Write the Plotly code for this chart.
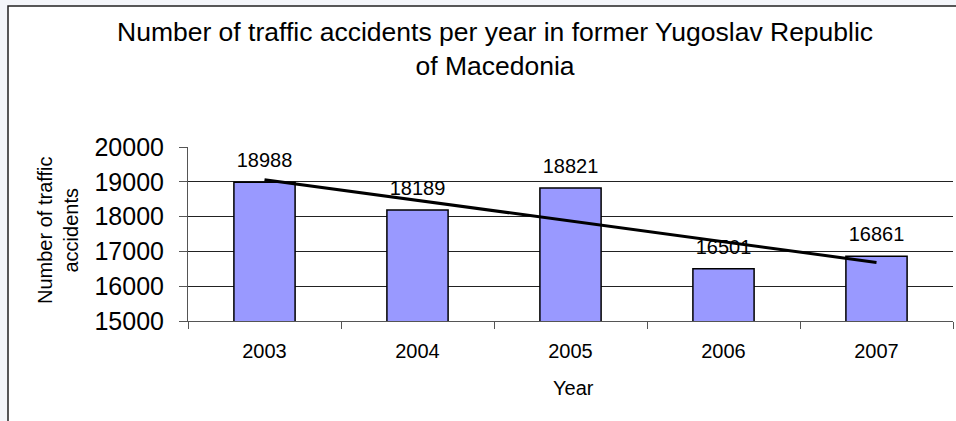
import numpy as np
import plotly.graph_objects as go

years = ["2003", "2004", "2005", "2006", "2007"]
accidents = [18988, 18189, 18821, 16501, 16861]
y_ticks = [15000, 16000, 17000, 18000, 19000, 20000]
y_tick_labels = ["15000", "16000", "17000", "18000", "19000", "20000"]

title_text = "Number of traffic accidents per year in former Yugoslav Republic<br>of Macedonia"
y_title = "Number of traffic<br>accidents"
x_title = "Year"

FONT = "Liberation Sans, Arial, sans-serif"

# linear trendline (Excel-style) computed from the data
xi = np.arange(1, len(accidents) + 1)
slope, intercept = np.polyfit(xi, accidents, 1)
trend = list(slope * xi + intercept)

fig = go.Figure()
fig.add_trace(go.Bar(
    x=years, y=accidents,
    marker=dict(color="#9999FF", line=dict(color="#000000", width=1.5)),
    width=0.4, showlegend=False, hoverinfo="skip",
))
fig.add_trace(go.Scatter(
    x=years, y=accidents, mode="markers+text",
    text=[str(v) for v in accidents], textposition="top center",
    marker=dict(size=14, opacity=0),
    textfont=dict(family=FONT, size=20, color="#000000"),
    showlegend=False, hoverinfo="skip", cliponaxis=False,
))
fig.add_trace(go.Scatter(
    x=years, y=trend, mode="lines",
    line=dict(color="#000000", width=3),
    showlegend=False, hoverinfo="skip",
))

W, H = 956, 421
L, R, T, B = 188, 3, 147, 100
pw, ph = W - L - R, H - T - B

def px_x(p):
    return (p - L) / pw

def px_y(p):
    return (H - B - p) / ph

fig.update_layout(
    width=W, height=H,
    margin=dict(l=L, r=R, t=T, b=B, pad=0),
    paper_bgcolor="#F4F6FA",
    plot_bgcolor="rgba(0,0,0,0)",
    font=dict(family=FONT, color="#000000"),
    bargap=0.6,
    xaxis=dict(
        type="category", tickson="boundaries",
        ticks="outside", ticklen=7, tickcolor="#555555", tickwidth=1,
        showline=True, linecolor="#555555", linewidth=1,
        showgrid=False,
        tickfont=dict(family=FONT, size=20),
        ticklabelstandoff=12,
        range=[-0.5, 4.5],
    ),
    yaxis=dict(
        range=[15000, 20000], tickvals=y_ticks, ticktext=y_tick_labels,
        ticks="outside", ticklen=8, tickcolor="#555555", tickwidth=1,
        showline=True, linecolor="#555555", linewidth=1,
        showgrid=True, gridcolor="#222222", gridwidth=1,
        tickfont=dict(family=FONT, size=25),
        ticklabelstandoff=10,
        zeroline=False,
    ),
    shapes=[
        dict(type="rect", xref="paper", yref="paper",
             x0=px_x(8), x1=px_x(W + 20), y0=px_y(H + 20), y1=px_y(6),
             line=dict(color="#222222", width=1.5), fillcolor="#FFFFFF",
             layer="below"),
    ],
    annotations=[
        dict(text=title_text, xref="paper", yref="paper",
             x=px_x(495), y=px_y(15), xanchor="center", yanchor="top",
             showarrow=False, align="center",
             font=dict(family=FONT, size=26.5, color="#000000")),
        dict(text=y_title, xref="paper", yref="paper",
             x=px_x(58), y=px_y(231), xanchor="center", yanchor="middle",
             textangle=-90, showarrow=False, align="center",
             font=dict(family=FONT, size=20, color="#000000")),
        dict(text=x_title, xref="paper", yref="paper",
             x=px_x(573), y=px_y(388), xanchor="center", yanchor="middle",
             showarrow=False,
             font=dict(family=FONT, size=20, color="#000000")),
    ],
)

fig.write_html("out.html", config={"displayModeBar": False},
               post_script="document.body.style.margin='0';")
